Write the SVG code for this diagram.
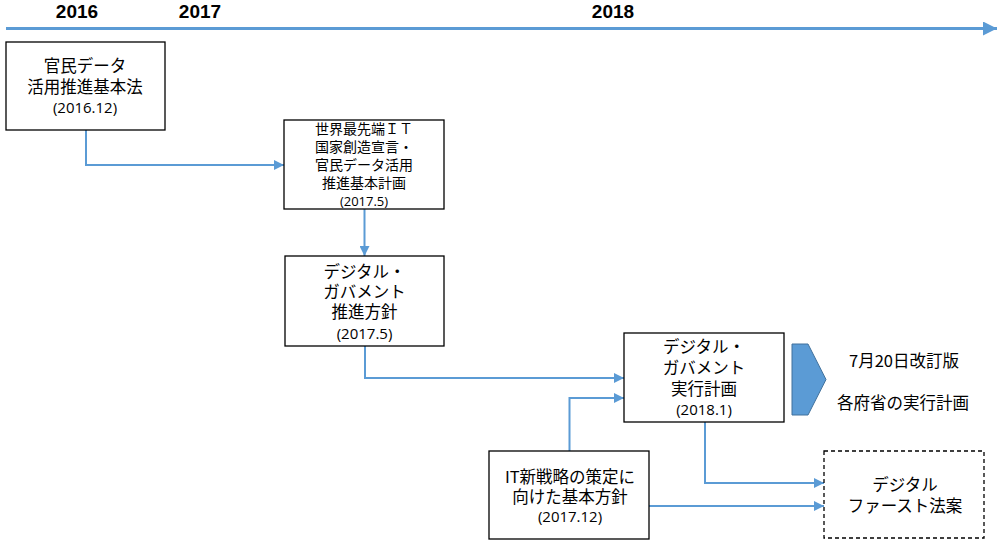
<svg xmlns="http://www.w3.org/2000/svg" width="1000" height="556" viewBox="0 0 1000 556">
<defs>
<style>
.box{fill:#fff;stroke:#000;stroke-width:1.3}
.dash{fill:#fff;stroke:#000;stroke-width:1.3;stroke-dasharray:4 3}
.con{fill:none;stroke:#5B9BD5;stroke-width:2}
.t{font-family:"Noto Sans CJK JP","Noto Sans",sans-serif;font-size:16.5px;fill:#000;text-anchor:middle}
.s{font-size:14px}
.d{font-family:"Open Sans","Noto Sans",sans-serif;font-size:15px}
.ds{font-family:"Open Sans","Noto Sans",sans-serif;font-size:13px}
.yr{font-family:"Liberation Sans",Arial,sans-serif;font-size:19px;font-weight:bold;fill:#000;text-anchor:middle}
</style>
<marker id="ah" viewBox="0 0 10 10" refX="10" refY="5" markerWidth="10" markerHeight="10" markerUnits="userSpaceOnUse" orient="auto">
<path d="M0,0 L10,5 L0,10 z" fill="#5B9BD5"/>
</marker>
<marker id="ahL" viewBox="0 0 10 10" refX="10" refY="5" markerWidth="14" markerHeight="14" markerUnits="userSpaceOnUse" orient="auto">
<path d="M0,0 L10,5 L0,10 z" fill="#5B9BD5"/>
</marker>
</defs>
<g id="timeline">
<line x1="6" y1="28.5" x2="997" y2="28.5" stroke="#5B9BD5" stroke-width="3" marker-end="url(#ahL)"/>
<text class="yr" x="77" y="18">2016</text>
<text class="yr" x="200" y="18">2017</text>
<text class="yr" x="613" y="18">2018</text>
</g>
<g id="connectors">
<polyline class="con" points="86,130 86,165 284,165" marker-end="url(#ah)"/>
<polyline class="con" points="364.5,209 364.5,256" marker-end="url(#ah)"/>
<polyline class="con" points="365,346 365,378 624,378" marker-end="url(#ah)"/>
<polyline class="con" points="569.5,451 569.5,398 624,398" marker-end="url(#ah)"/>
<polyline class="con" points="705,422 705,483 824,483" marker-end="url(#ah)"/>
<polyline class="con" points="649,506 824,506" marker-end="url(#ah)"/>
</g>
<g id="n1">
<rect class="box" x="6" y="42" width="159" height="88"/>
<text class="t" x="85" y="72">官民データ</text>
<text class="t" x="85" y="93">活用推進基本法</text>
<text class="t d" x="85" y="113">(2016.12)</text>
</g>
<g id="n2">
<rect class="box" x="284" y="120" width="160" height="89"/>
<text class="t s" x="364" y="134">世界最先端ＩＴ</text>
<text class="t s" x="364" y="152">国家創造宣言・</text>
<text class="t s" x="364" y="170">官民データ活用</text>
<text class="t s" x="364" y="188">推進基本計画</text>
<text class="t ds" x="364" y="206">(2017.5)</text>
</g>
<g id="n3">
<rect class="box" x="285" y="256" width="159" height="90"/>
<text class="t" x="364.5" y="278">デジタル・</text>
<text class="t" x="364.5" y="298">ガバメント</text>
<text class="t" x="364.5" y="318">推進方針</text>
<text class="t d" x="364.5" y="339">(2017.5)</text>
</g>
<g id="n4">
<rect class="box" x="624" y="333" width="160" height="89"/>
<text class="t" x="704" y="353">デジタル・</text>
<text class="t" x="704" y="374">ガバメント</text>
<text class="t" x="704" y="395">実行計画</text>
<text class="t d" x="704" y="415">(2018.1)</text>
</g>
<g id="n5">
<rect class="box" x="489" y="451" width="160" height="88"/>
<text class="t" x="570" y="483">IT新戦略の策定に</text>
<text class="t" x="570" y="503">向けた基本方針</text>
<text class="t d" x="570" y="522">(2017.12)</text>
</g>
<g id="n6">
<rect class="dash" x="824" y="451" width="160" height="87"/>
<text class="t" x="905" y="491">デジタル</text>
<text class="t" x="905" y="512">ファースト法案</text>
</g>
<g id="n7">
<polygon points="792,344 808,344 826,379.5 808,415 792,415" fill="#5B9BD5" stroke="#41719C" stroke-width="1"/>
<text class="t" x="904" y="367">7月20日改訂版</text>
<text class="t" x="903" y="409">各府省の実行計画</text>
</g>
</svg>
